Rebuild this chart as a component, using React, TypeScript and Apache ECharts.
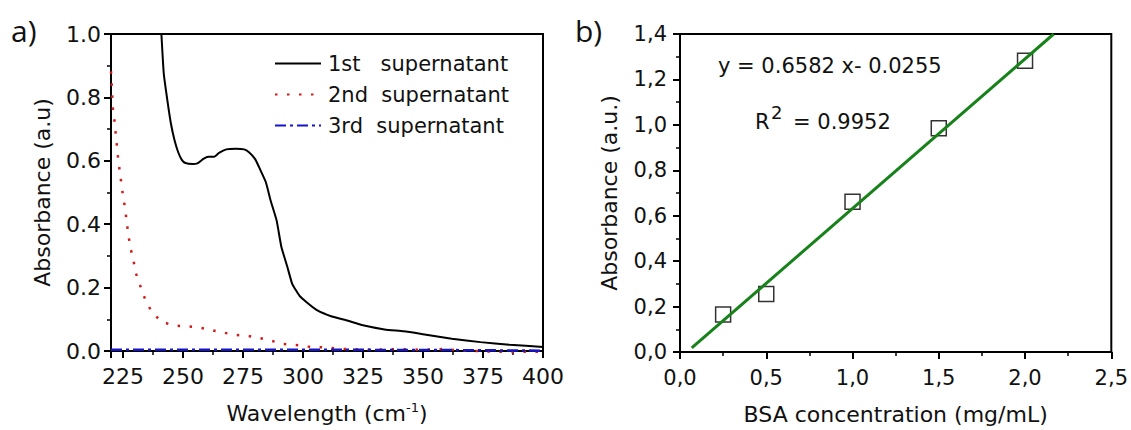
import React, { useEffect, useRef } from "react";
import * as echarts from "echarts";

// ---- Panel a) UV-Vis spectra ----
const wl1 = [241, 242, 243.5, 245, 246.5, 248, 249.5, 251, 254, 256, 258.5, 260.5, 263, 265, 268, 272, 275.5, 277.5, 280, 282, 284.5, 286.5, 289, 291, 293.5, 295.5, 298.5, 301.5, 306, 312, 318, 325, 334, 342, 350, 362, 374, 386, 400];
const abs1 = [1.0, 0.874, 0.79, 0.716, 0.664, 0.627, 0.603, 0.593, 0.59, 0.592, 0.606, 0.613, 0.613, 0.625, 0.636, 0.638, 0.636, 0.627, 0.606, 0.575, 0.533, 0.475, 0.412, 0.328, 0.265, 0.212, 0.175, 0.154, 0.128, 0.109, 0.097, 0.081, 0.068, 0.062, 0.053, 0.039, 0.028, 0.02, 0.013];

const wl2 = [220, 220.3, 220.8, 221.5, 222, 222.5, 223, 223.7, 224.9, 226, 226.8, 228, 229.1, 230.3, 232, 233.8, 236.4, 240.6, 245.8, 250.9, 256.2, 261.3, 266.3, 271.4, 276.6, 281.9, 287, 291.9, 297, 302, 307.5, 313, 318, 328, 339, 349, 358, 368, 379, 389, 400];
const abs2 = [0.882, 0.84, 0.762, 0.723, 0.683, 0.644, 0.604, 0.564, 0.496, 0.443, 0.391, 0.328, 0.296, 0.247, 0.21, 0.171, 0.131, 0.094, 0.081, 0.078, 0.075, 0.067, 0.059, 0.051, 0.048, 0.041, 0.032, 0.022, 0.019, 0.014, 0.012, 0.009, 0.006, 0.004, 0.006, 0.004, 0.006, 0.001, -0.002, -0.003, -0.002];

const wl3 = [220, 240, 260, 280, 300, 320, 340, 360, 380, 400];
const abs3 = [0.004, 0.004, 0.004, 0.004, 0.004, 0.004, 0.003, 0.003, 0.002, 0.001];

const seriesNames = ["1st   supernatant", "2nd  supernatant", "3rd  supernatant"];

// ---- Panel b) BSA calibration ----
const bsaConc = [0.25, 0.5, 1.0, 1.5, 2.0];
const bsaAbs = [0.165, 0.255, 0.662, 0.985, 1.282];
const fitX = [0.068, 2.166];
const fitY = [0.018, 1.4];
const equationText = "y = 0.6582 x- 0.0255";
const r2Value = "= 0.9952";

const FONT = "DejaVu Sans";
const TXT = "#111";

const zip = (a: number[], b: number[]) => a.map((v, i) => [v, b[i]]);
const comma = (v: number) => v.toFixed(1).replace(".", ",");

export default function App() {
  const ref = useRef<HTMLDivElement>(null);
  useEffect(() => {
    if (!ref.current) return;
    const chart = echarts.init(ref.current, null, { renderer: "svg" });
    const axisLine = { show: true, onZero: false, lineStyle: { color: "#000", width: 2 } };
    const tick = { show: true, inside: false, length: 7, lineStyle: { color: "#000", width: 2 } };
    const minor = { show: true, splitNumber: 2, length: 4, lineStyle: { color: "#000", width: 1.5 } };
    const label = (margin: number, size: number, fmt: any) => ({
      margin, fontFamily: FONT, fontSize: size, color: TXT, formatter: fmt,
    });
    const nameStyle = (size: number) => ({
      fontFamily: FONT, fontSize: size, color: TXT,
      rich: { sup: { fontFamily: FONT, fontSize: 13, color: TXT, padding: [0, 0, 12, 0] } },
    });
    const option: any = {
      animation: false,
      backgroundColor: "#fff",
      grid: [
        { left: 111, top: 34, right: 588, bottom: 79, show: true, borderColor: "#000", borderWidth: 2, backgroundColor: "rgba(0,0,0,0)" },
        { left: 680, top: 34, right: 19, bottom: 78, show: true, borderColor: "#000", borderWidth: 2, backgroundColor: "rgba(0,0,0,0)" },
      ],
      legend: {
        data: seriesNames,
        orient: "vertical",
        left: 269,
        top: 48,
        itemWidth: 46,
        itemHeight: 14,
        itemGap: 10,
        itemStyle: { opacity: 0 },
        textStyle: { fontFamily: FONT, fontSize: 21, color: TXT, padding: [0, 0, 0, 2] },
      },
      xAxis: [
        {
          type: "value", gridIndex: 0, min: 220, max: 400, minInterval: 25, maxInterval: 25,
          axisLine, axisTick: tick, minorTick: minor,
          splitLine: { show: false }, minorSplitLine: { show: false },
          axisLabel: label(14, 22, (v: number) => (v === 220 ? "" : String(v))),
          name: "Wavelength (cm{sup|-1})", nameLocation: "middle", nameGap: 50,
          nameTextStyle: nameStyle(22),
        },
        {
          type: "value", gridIndex: 1, min: 0, max: 2.5, interval: 0.5,
          axisLine, axisTick: tick, minorTick: minor,
          splitLine: { show: false }, minorSplitLine: { show: false },
          axisLabel: label(15, 21, comma),
          name: "BSA concentration (mg/mL)", nameLocation: "middle", nameGap: 51,
          nameTextStyle: nameStyle(22),
        },
      ],
      yAxis: [
        {
          type: "value", gridIndex: 0, min: 0, max: 1.0, interval: 0.2,
          axisLine, axisTick: tick, minorTick: minor,
          splitLine: { show: false }, minorSplitLine: { show: false },
          axisLabel: label(10, 22, (v: number) => v.toFixed(1)),
          name: "Absorbance (a.u)", nameLocation: "middle", nameGap: 58,
          nameTextStyle: nameStyle(22),
        },
        {
          type: "value", gridIndex: 1, min: 0, max: 1.4, interval: 0.2,
          axisLine, axisTick: tick, minorTick: minor,
          splitLine: { show: false }, minorSplitLine: { show: false },
          axisLabel: label(13, 21, comma),
          name: "Absorbance (a.u.)", nameLocation: "middle", nameGap: 60,
          nameTextStyle: nameStyle(22),
        },
      ],
      series: [
        {
          name: seriesNames[0], type: "line", xAxisIndex: 0, yAxisIndex: 0,
          data: zip(wl1, abs1), symbol: "none", showSymbol: false, smooth: 0.15,
          lineStyle: { color: "#000", width: 2 }, itemStyle: { color: "#000" }, z: 2,
        },
        {
          name: seriesNames[1], type: "line", xAxisIndex: 0, yAxisIndex: 0,
          data: zip(wl2, abs2), symbol: "none", showSymbol: false, clip: false,
          lineStyle: { color: "#d01c1c", width: 2.5, type: [2.5, 9.5] }, itemStyle: { color: "#d01c1c" }, z: 3,
        },
        {
          name: seriesNames[2], type: "line", xAxisIndex: 0, yAxisIndex: 0,
          data: zip(wl3, abs3), symbol: "none", showSymbol: false, clip: false,
          lineStyle: { color: "#1414c8", width: 2.5, type: [11, 4, 3, 4] }, itemStyle: { color: "#1414c8" }, z: 4,
        },
        {
          name: "BSA data", type: "scatter", xAxisIndex: 1, yAxisIndex: 1,
          data: zip(bsaConc, bsaAbs), symbol: "rect", symbolSize: 15,
          itemStyle: { color: "rgba(255,255,255,0)", borderColor: "#000", borderWidth: 1.5 }, z: 2,
        },
        {
          name: "Linear fit", type: "line", xAxisIndex: 1, yAxisIndex: 1,
          data: zip(fitX, fitY), symbol: "none", showSymbol: false,
          lineStyle: { color: "#17821a", width: 3 }, z: 3,
        },
      ],
      graphic: [
        { type: "text", x: 11, y: 30, style: { text: "a)", fontFamily: "Open Sans", fontSize: 30, fill: TXT, verticalAlign: "middle" } },
        { type: "text", x: 575, y: 30, style: { text: "b)", fontFamily: "Open Sans", fontSize: 30, fill: TXT, verticalAlign: "middle" } },
        { type: "text", x: 718, y: 66, style: { text: equationText, fontFamily: FONT, fontSize: 21, fill: TXT, verticalAlign: "middle" } },
        { type: "text", x: 755, y: 122, style: { text: "R", fontFamily: FONT, fontSize: 21, fill: TXT, verticalAlign: "middle" } },
        { type: "text", x: 771, y: 112, style: { text: "2", fontFamily: FONT, fontSize: 18, fill: TXT, verticalAlign: "middle" } },
        { type: "text", x: 793, y: 122, style: { text: r2Value, fontFamily: FONT, fontSize: 21, fill: TXT, verticalAlign: "middle" } },
      ],
    };
    chart.setOption(option);
    return () => chart.dispose();
  }, []);
  return <div ref={ref} style={{ position: "fixed", left: 0, top: 0, width: 1131, height: 430 }} />;
}
